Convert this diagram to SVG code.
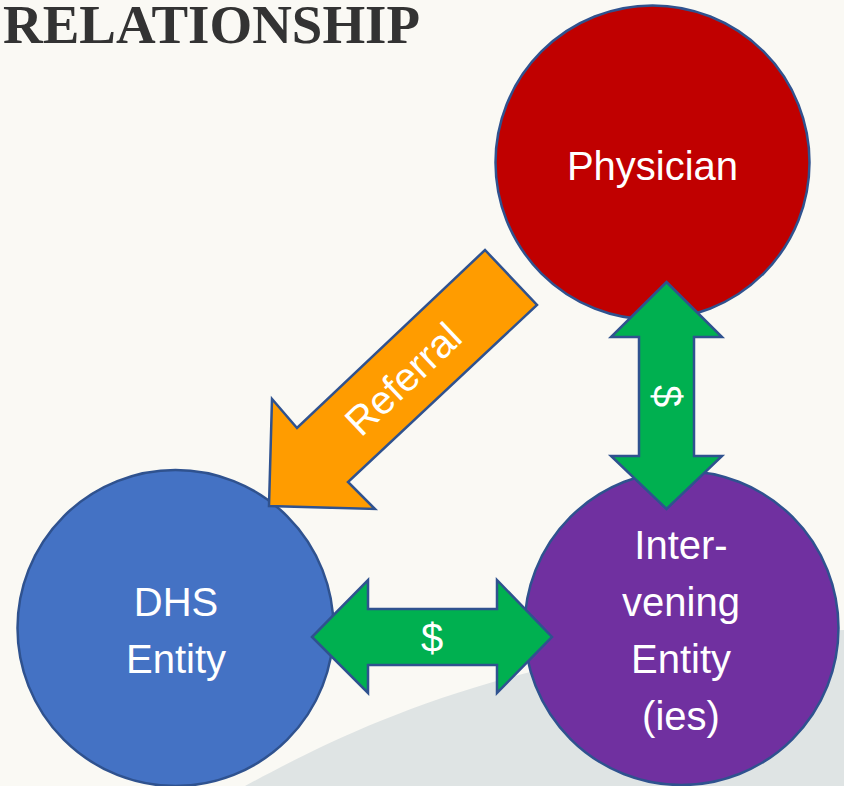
<svg xmlns="http://www.w3.org/2000/svg" width="844" height="786" viewBox="0 0 844 786">
  <style>
    .node { stroke: #2f528f; stroke-width: 2.5; }
    .lbl { font-family: "Liberation Sans", Arial, sans-serif; font-size: 40px; fill: #ffffff; text-anchor: middle; }
    .conn { stroke: #2f528f; stroke-width: 2.5; stroke-linejoin: miter; }
  </style>
  <rect x="0" y="0" width="844" height="786" fill="#faf9f4"/>
  <path d="M245,786 C340,735 520,640 844,630 L844,786 Z" fill="#dfe4e4"/>
  <text x="3" y="43" font-family="'Liberation Serif', 'Times New Roman', serif" font-weight="bold" font-size="54" fill="#333333" textLength="417" lengthAdjust="spacingAndGlyphs">RELATIONSHIP</text>

  <g id="physician">
    <circle class="node" cx="652.5" cy="162.5" r="157" fill="#c00000"/>
    <text class="lbl" x="652.5" y="180">Physician</text>
  </g>
  <g id="dhs-entity">
    <circle class="node" cx="175.5" cy="628" r="158" fill="#4472c4"/>
    <text class="lbl" x="176" y="616">DHS</text>
    <text class="lbl" x="176" y="673">Entity</text>
  </g>
  <g id="intervening-entity">
    <circle class="node" cx="681.5" cy="628" r="157" fill="#7030a0"/>
    <text class="lbl" x="681" y="559">Inter-</text>
    <text class="lbl" x="681" y="616">vening</text>
    <text class="lbl" x="681" y="673">Entity</text>
    <text class="lbl" x="681" y="730">(ies)</text>
  </g>

  <g id="connectors">
    <g id="referral">
      <polygon class="conn" fill="#ff9c00" points="269,506 272,399 297,428 485,250 537,305 348,482 375,509"/>
      <text class="lbl" x="0" y="0" transform="translate(403,379) rotate(-43.5) translate(0,14)">Referral</text>
    </g>
    <g id="physician-intervening">
      <polygon class="conn" fill="#00b050" points="666.5,282 722,337 694,337 694,456 722,456 666.5,509 611,456 639,456 639,337 611,337"/>
      <text class="lbl" x="0" y="0" transform="translate(666.5,396) rotate(90) translate(0,14)">$</text>
    </g>
    <g id="dhs-intervening">
      <polygon class="conn" fill="#00b050" points="312,637 368,580 368,609 497,609 497,580 552,637 497,693 497,665 368,665 368,693"/>
      <text class="lbl" x="432" y="652">$</text>
    </g>
  </g>
</svg>
